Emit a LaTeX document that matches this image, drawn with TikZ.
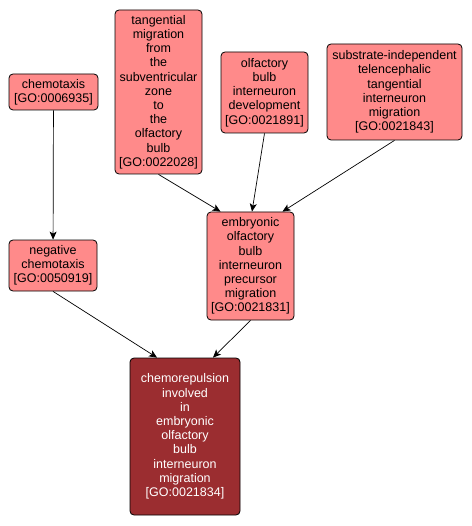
\documentclass[tikz,border=0pt]{standalone}
\usepackage{fontspec}
\setmainfont{Liberation Sans}
\usetikzlibrary{arrows.meta,calc}
\definecolor{lightred}{RGB}{255,138,138}
\definecolor{darkred}{RGB}{155,45,48}
\begin{document}
\begin{tikzpicture}[x=1pt,y=-1pt,
 term/.style={draw=black, line width=0.8pt, rounded corners=4pt, fill=lightred, align=center, inner sep=0pt, font=\fontsize{12.5}{14.2}\selectfont},
 focus/.style={term, fill=darkred, text=white},
 edge/.style={draw=black, line width=0.7pt, -{Stealth[length=8pt,width=7pt,inset=2pt]}}]
\useasboundingbox (0,0) rectangle (471,526);
\node[term, minimum width=89, minimum height=36] (chemo) at (53.5,92) {chemotaxis\\{}[GO:0006935]};
\node[term, minimum width=88, minimum height=51] (neg) at (53,265.5) {negative\\chemotaxis\\{}[GO:0050919]};
\node[term, minimum width=87, minimum height=164] (tang) at (158.5,92) {tangential\\migration\\from\\the\\subventricular\\zone\\to\\the\\olfactory\\bulb\\{}[GO:0022028]};
\node[term, minimum width=87, minimum height=81] (olf) at (264.5,92.5) {olfactory\\bulb\\interneuron\\development\\{}[GO:0021891]};
\node[term, minimum width=135, minimum height=96] (sub) at (394.5,92) {substrate-independent\\telencephalic\\tangential\\interneuron\\migration\\{}[GO:0021843]};
\node[term, minimum width=87, minimum height=108] (emb) at (250.5,266) {embryonic\\olfactory\\bulb\\interneuron\\precursor\\migration\\{}[GO:0021831]};
\node[focus, minimum width=110, minimum height=157] (rep) at (185,436.5) {chemorepulsion\\involved\\in\\embryonic\\olfactory\\bulb\\interneuron\\migration\\{}[GO:0021834]};
\draw[edge] (chemo) -- (neg);
\draw[edge] (tang.south) -- ($(emb.north)+(-30,0)$);
\draw[edge] (olf.south) -- ($(emb.north)+(1.5,0)$);
\draw[edge] (sub.south) -- ($(emb.north)+(32,0)$);
\draw[edge] (neg.south) -- ($(rep.north)+(-28,0)$);
\draw[edge] (emb.south) -- ($(rep.north)+(28,0)$);
\end{tikzpicture}
\end{document}
